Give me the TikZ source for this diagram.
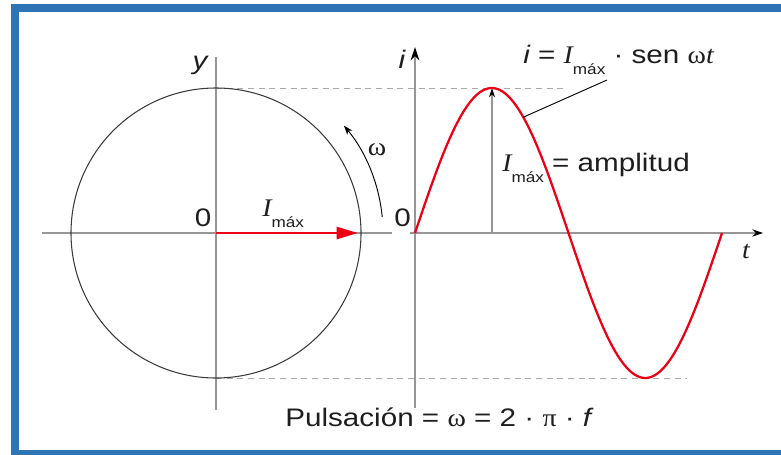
\documentclass[tikz,border=0pt]{standalone}
\usepackage{fontspec}
\setmainfont{Liberation Sans}[FakeStretch=1.17]
\newfontfamily\grk{Liberation Serif}[FakeStretch=1.1]
\usetikzlibrary{arrows.meta}
\definecolor{frameblue}{RGB}{46,117,182}
\definecolor{axgray}{RGB}{150,150,150}
\definecolor{circgray}{RGB}{60,60,60}
\definecolor{dashgray}{RGB}{170,170,170}
\definecolor{sinred}{RGB}{235,0,20}
\definecolor{txt}{RGB}{30,30,30}
\newcommand{\Imx}{{\grk\itshape I}\raisebox{-8.5pt}{\fontsize{11}{12}\selectfont máx}}
\newcommand{\wg}{{\grk ω}}
\tikzset{
  axis/.style={axgray, line width=1pt},
  dashl/.style={dashgray, line width=0.75pt, dash pattern=on 4.5pt off 3.5pt},
  lbl/.style={inner sep=0pt, text=txt, font=\fontsize{19}{22}\selectfont},
}
\begin{document}
\begin{tikzpicture}[x=0.75pt,y=-0.75pt]
\useasboundingbox (0,0) rectangle (781,454);
\begin{scope}
  \clip (0,0) rectangle (781,454);
  \draw[frameblue, line width=6pt] (14.5,8) rectangle (800,454);
\end{scope}
% coordinates
\coordinate (O) at (216,233);
\coordinate (yb) at (216,410);
\coordinate (yt) at (216,57);
\coordinate (xl) at (42,233);
\coordinate (xr) at (392,233);
\coordinate (R) at (358,233);
\coordinate (O2) at (415,233);
\coordinate (ib) at (415,408);
\coordinate (it) at (415,47);
\coordinate (tl) at (410,233);
\coordinate (tr) at (763,233);
\coordinate (pk) at (492,88);
\coordinate (pkb) at (492,233);
\coordinate (dt1) at (216,88);
\coordinate (dt2) at (567,88);
\coordinate (db1) at (216,378);
\coordinate (db2) at (687,378);
\coordinate (lead) at ({415+0.85278*127},{233-145*sin(127)});
\coordinate (leadend) at (607,80);
% dashed guides
\draw[dashl] (dt1) -- (dt2);
\draw[dashl] (db1) -- (db2);
% left axes and circle
\draw[axis] (xl) -- (xr);
\draw[axis] (yb) -- (yt);
\draw[circgray, line width=0.8pt] (O) circle[radius=108.75pt];
\draw[black, line width=0.7pt, -{Stealth[length=7pt,width=5pt]}] ([shift={(5.5:125.25pt)}]O) arc[start angle=5.5, end angle=40, radius=125.25pt];
\draw[sinred, line width=1.9pt, -{Triangle[length=16pt,width=9pt]}] (O) -- (R);
% right axes
\draw[axis, -{Stealth[black,length=10pt,width=6.5pt]}] (ib) -- (it);
\draw[axis, -{Stealth[black,length=8pt,width=5.5pt]}] (tl) -- (tr);
% amplitude
\draw[axis, -{Stealth[black,length=7pt,width=4.5pt]}] (pkb) -- (pk);
% sine
\draw[sinred, line width=1.7pt] plot[domain=0:360, samples=120, smooth] ({415+0.85278*\x},{233-145*sin(\x)});
\draw[black, line width=0.7pt] (lead) -- (leadend);
% labels
\node[lbl] (ylab) at (200,65) {\itshape y};
\node[lbl] (ilab) at (402,59) {\itshape i};
\node[lbl] (z1) at (203,217.5) {0};
\node[lbl] (z2) at (402.5,217.5) {0};
\node[lbl, anchor=base west] (imax) at (262,216) {\Imx};
\node[lbl] (wlab) at (377,150) {\wg};
\node[lbl] (tlab) at (746,251) {\grk\itshape t};
\node[lbl, anchor=base west] (eq) at (523,63) {\itshape i\upshape\ = \Imx\ · sen \wg{\grk\itshape t}};
\node[lbl, anchor=base west] (amp) at (502,171) {\Imx\ = amplitud};
\node[lbl, anchor=base west] (puls) at (285,426) {Pulsación = \wg\ = 2 · {\grk π} · \itshape f};
\end{tikzpicture}
\end{document}
